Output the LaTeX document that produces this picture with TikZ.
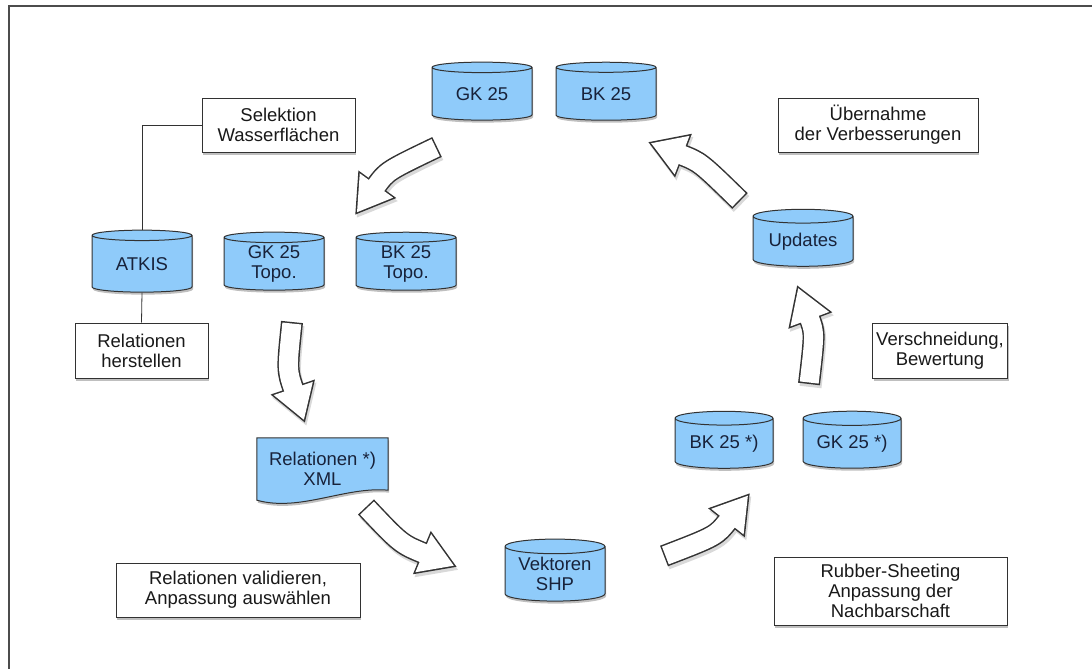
\documentclass[tikz,border=0pt]{standalone}
\usepackage{fontspec}
\setmainfont{Liberation Sans}
\usepackage{tikz}
\usetikzlibrary{arrows.meta,shapes.geometric,positioning,shadows,backgrounds,calc}
\definecolor{dbblue}{RGB}{143,203,250}
\definecolor{dbtext}{RGB}{24,34,58}
\definecolor{boxline}{RGB}{50,50,50}
\tikzstyle{dbnode} = [cylinder, shape border rotate=90, aspect=0.2, draw=boxline, fill=dbblue, line width=1pt, minimum width=100pt, minimum height=58pt, inner sep=0pt, text=dbtext, align=center, drop shadow={shadow xshift=1pt, shadow yshift=-2.5pt, opacity=0.5}]
\tikzstyle{stepbox} = [rectangle, draw=boxline, fill=white, line width=1pt, minimum height=54pt, inner sep=0pt, text=black!90, align=center, drop shadow={shadow xshift=1pt, shadow yshift=-2.5pt, opacity=0.5}]
\tikzstyle{link} = [draw=boxline, line width=0.8pt]
\tikzstyle{flowshade} = [line width=22pt, draw=black!15, -{Triangle[length=38pt,width=44pt]}, transform canvas={shift={(1.5pt,-3pt)}}]
\tikzstyle{flowout} = [line width=22pt, draw=black!80, -{Triangle[length=38pt,width=44pt]}]
\tikzstyle{flowin} = [line width=19pt, draw=white, shorten <=1.5pt, shorten >=3pt, -{Triangle[length=33.5pt,width=38.8pt]}]
\newcommand{\flowarrow}[3]{%
  \draw[flowshade] (#1) .. controls (#2) .. (#3);
  \draw[flowout] (#1) .. controls (#2) .. (#3);
  \draw[flowin] (#1) .. controls (#2) .. (#3);
}

\begin{document}
\begin{tikzpicture}[x=1pt, y=-1pt, font=\fontsize{18.5}{20}\selectfont]
\useasboundingbox (0,0) rectangle (1092,669);
\draw[line width=1.6pt, black!70] (9,669) -- (9,6) -- (1092,6);

% source maps
\node[dbnode] (gk) at (482,94) {GK 25};
\node[dbnode, right=23pt of gk] (bk) {BK 25};

% left side
\node[stepbox, minimum width=153pt] (sel) at (278.5,125) {Selektion\\Wasserflächen};
\node[dbnode, minimum height=62pt] (atkis) at (142,264) {ATKIS};
\node[dbnode, right=31pt of atkis] (gkt) {GK 25\\Topo.};
\node[dbnode, right=31pt of gkt] (bkt) {BK 25\\Topo.};
\node[stepbox, minimum width=133pt, minimum height=55pt] (rel) at (141.5,350.5) {Relationen\\herstellen};

\draw[link] (atkis.north) |- (sel.west);
\draw[link] (atkis.south) -- (rel.north);

% relations file
\node[minimum width=131pt, minimum height=62pt, inner sep=0pt, text=dbtext, align=center] (xml) at (322.5,469) {Relationen *)\\XML};
\begin{scope}[on background layer]
\filldraw[draw=boxline, fill=dbblue, line width=1pt, drop shadow={shadow xshift=1pt, shadow yshift=-2.5pt, opacity=0.5}]
  (xml.north west) -- (xml.north east) -- ($(xml.south east)+(0,-10)$)
  .. controls ($(xml.south east)+(-43,-14)$) and ($(xml.south west)+(43,12)$) .. (xml.south west) -- cycle;
\end{scope}
\node[stepbox, minimum width=244pt] (val) at (238,590) {Relationen validieren,\\Anpassung auswählen};

% bottom and right side
\node[dbnode, minimum height=62pt] (shp) at (555,574) {Vektoren\\SHP};
\node[dbnode, minimum width=98pt, minimum height=57pt] (bks) at (724,443.5) {BK 25 *)};
\node[dbnode, minimum width=98pt, minimum height=57pt, right=29pt of bks] (gks) {GK 25 *)};
\node[stepbox, minimum width=233pt, minimum height=68pt] (rub) at (890.5,591) {Rubber-Sheeting\\Anpassung der\\Nachbarschaft};
\node[dbnode, minimum height=57pt] (upd) at (803,241.5) {Updates};
\node[stepbox, minimum width=135pt, minimum height=55pt] (ver) at (940,350.5) {Verschneidung,\\Bewertung};
\node[stepbox, minimum width=200pt] (ueb) at (878,125) {Übernahme\\der Verbesserungen};

% block arrows of the cycle
\coordinate (arrA-tail) at (437,147); \coordinate (arrA-bend) at (387,171); \coordinate (arrA-tip) at (355,215);
\coordinate (arrB-tail) at (292,322); \coordinate (arrB-bend) at (287,370); \coordinate (arrB-tip) at (305,423);
\coordinate (arrC-tail) at (366,507); \coordinate (arrC-bend) at (401,544); \coordinate (arrC-tip) at (457,567);
\coordinate (arrD-tail) at (664,556); \coordinate (arrD-bend) at (716,536); \coordinate (arrD-tip) at (750,493);
\coordinate (arrE-tail) at (809,384); \coordinate (arrE-bend) at (815,333); \coordinate (arrE-tip) at (797,285);
\coordinate (arrF-tail) at (740,201); \coordinate (arrF-bend) at (700,162); \coordinate (arrF-tip) at (648,142);

\flowarrow{arrA-tail}{arrA-bend}{arrA-tip}
\flowarrow{arrB-tail}{arrB-bend}{arrB-tip}
\flowarrow{arrC-tail}{arrC-bend}{arrC-tip}
\flowarrow{arrD-tail}{arrD-bend}{arrD-tip}
\flowarrow{arrE-tail}{arrE-bend}{arrE-tip}
\flowarrow{arrF-tail}{arrF-bend}{arrF-tip}
\end{tikzpicture}
\end{document}
